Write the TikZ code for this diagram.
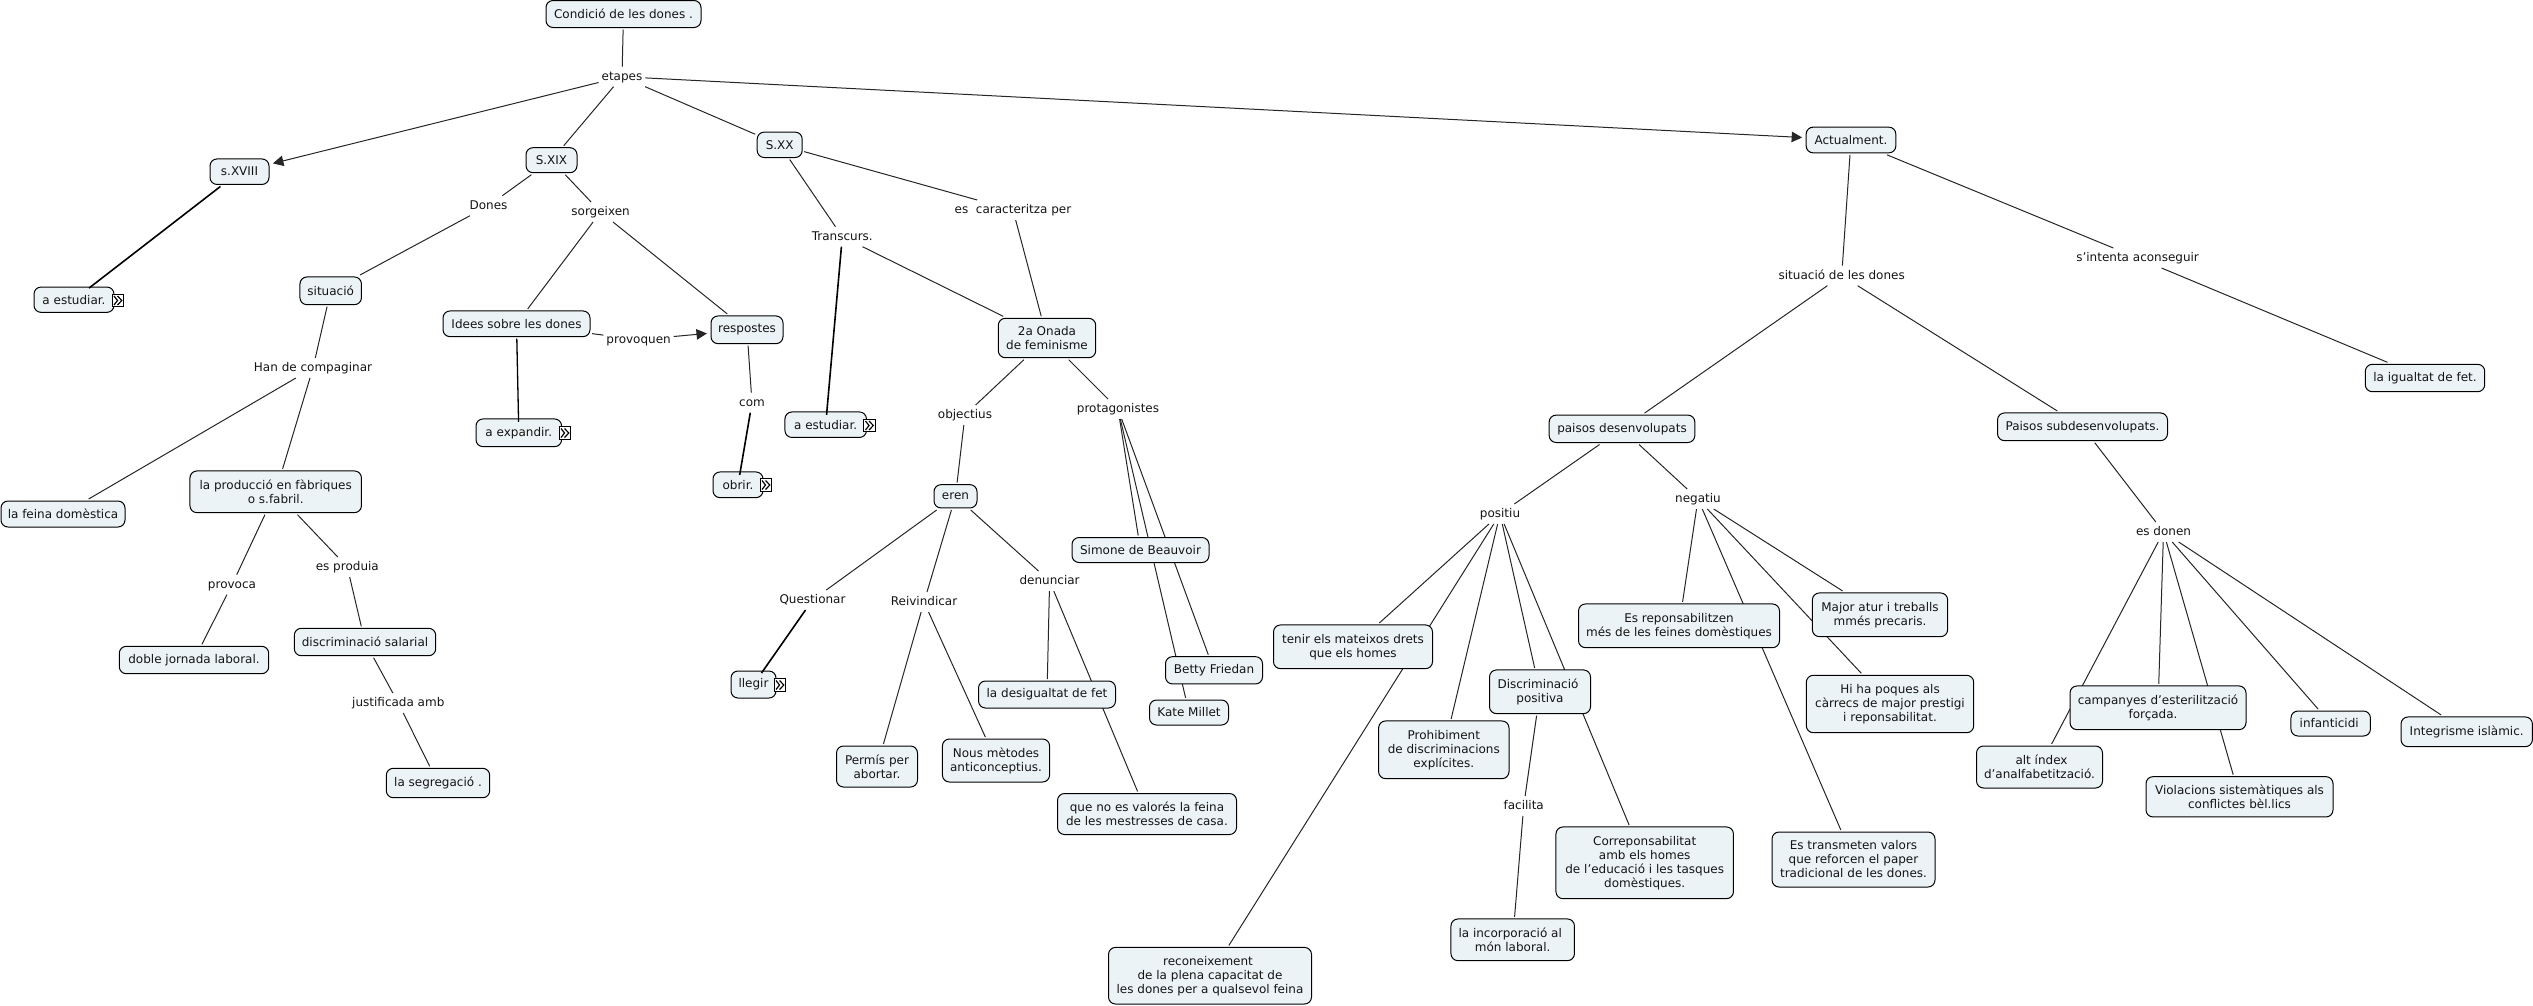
\documentclass[tikz,border=0pt]{standalone}
\usepackage{fontspec}
\setmainfont{DejaVu Sans}
\usetikzlibrary{arrows.meta,backgrounds}
\definecolor{conceptfill}{RGB}{236,243,246}
\definecolor{inkc}{RGB}{20,20,20}
\tikzset{
  every node/.style={font=\fontsize{12}{14}\selectfont,text=inkc},
  concept/.style={draw=black,line width=1pt,fill=conceptfill,rounded corners=7pt,align=center,inner sep=0pt,outer sep=2pt},
  linking/.style={inner xsep=3pt,inner ysep=0pt,minimum height=20pt,outer sep=0pt,text height=9.5pt,text depth=2.5pt},
  link/.style={draw=black!85,line width=1pt},
  arrowlink/.style={link,-{Triangle[length=10.5pt,width=10.5pt]},shorten >=2pt},
  doublelink/.style={draw=black,line width=1.6pt,shorten >=-5pt},
  resicon/.style={draw=black,line width=1pt,fill=white,minimum width=11.5pt,minimum height=12.5pt,inner sep=0pt,outer sep=0pt},
  chevron/.style={draw=black,line width=1.2pt},
}
\newcommand{\chevrons}[1]{%
  \draw[chevron] ([shift={(-4,-4.5)}]#1.center) -- ([shift={(-0.5,0)}]#1.center) -- ([shift={(-4,4.5)}]#1.center);
  \draw[chevron] ([shift={(-0.5,-4.5)}]#1.center) -- ([shift={(3.8,0)}]#1.center) -- ([shift={(-0.5,4.5)}]#1.center);}
\begin{document}
\begin{tikzpicture}[x=1pt,y=-1pt]
\useasboundingbox (0,0) rectangle (2533,1005);
% concepts
\node[concept,minimum width=155pt,minimum height=27pt] (root) at (623.5,14) {Condició de les dones .};
\node[concept,minimum width=59pt,minimum height=25.5pt] (sxviii) at (239.5,171.7) {s.XVIII};
\node[concept,minimum width=51pt,minimum height=25pt] (sxix) at (551.5,160.2) {S.XIX};
\node[concept,minimum width=45pt,minimum height=25.4pt] (sxx) at (779.7,144.8) {S.XX};
\node[concept,minimum width=80pt,minimum height=25.3pt] (aesta) at (74,299.7) {a estudiar.};
\node[concept,minimum width=61.5pt,minimum height=27.7pt] (situacio) at (330.7,290.8) {situació};
\node[concept,minimum width=147pt,minimum height=25.7pt] (idees) at (516.5,323.8) {Idees sobre les dones};
\node[concept,minimum width=72pt,minimum height=27.7pt] (respostes) at (747,329.8) {respostes};
\node[concept,minimum width=85.6pt,minimum height=27.7pt] (aexp) at (518.8,432.8) {a expandir.};
\node[concept,minimum width=50pt,minimum height=25.7pt] (obrir) at (738,484.8) {obrir.};
\node[concept,minimum width=171.5pt,minimum height=41.7pt] (produccio) at (275.7,491.8) {la producció en fàbriques\\o s.fabril.};
\node[concept,minimum width=124pt,minimum height=26pt] (feina) at (63,514) {la feina domèstica};
\node[concept,minimum width=149.4pt,minimum height=27.4pt] (doble) at (194,660) {doble jornada laboral.};
\node[concept,minimum width=141.4pt,minimum height=27.4pt] (discsal) at (365,642) {discriminació salarial};
\node[concept,minimum width=103.4pt,minimum height=29.4pt] (segreg) at (438,783) {la segregació .};
\node[concept,minimum width=97.4pt,minimum height=39.4pt] (onada) at (1047,338) {2a Onada\\de feminisme};
\node[concept,minimum width=81.5pt,minimum height=25.5pt] (aestb) at (825.7,424.7) {a estudiar.};
\node[concept,minimum width=43pt,minimum height=23.3pt] (eren) at (955.5,496.3) {eren};
\node[concept,minimum width=137pt,minimum height=25pt] (simone) at (1140.5,550) {Simone de Beauvoir};
\node[concept,minimum width=97pt,minimum height=27.3pt] (betty) at (1214,670.3) {Betty Friedan};
\node[concept,minimum width=79pt,minimum height=25pt] (kate) at (1189,712.5) {Kate Millet};
\node[concept,minimum width=45pt,minimum height=27pt] (llegir) at (753.5,684.5) {llegir};
\node[concept,minimum width=137pt,minimum height=27pt] (desig) at (1047,694.5) {la desigualtat de fet};
\node[concept,minimum width=81pt,minimum height=41pt] (permis) at (877,766.5) {Permís per\\abortar.};
\node[concept,minimum width=107.2pt,minimum height=43pt] (nous) at (996,760.5) {Nous mètodes\\anticonceptius.};
\node[concept,minimum width=179pt,minimum height=41pt] (queno) at (1147,814) {que no es valorés la feina\\de les mestresses de casa.};
\node[concept,minimum width=203pt,minimum height=56.6pt] (recon) at (1210,975.7) {reconeixement\hspace*{4pt}\\de la plena capacitat de\hspace*{4pt}\\les dones per a qualsevol feina};
\node[concept,minimum width=159pt,minimum height=43.7pt] (tenir) at (1353,646.8) {tenir els mateixos drets\\que els homes};
\node[concept,minimum width=101pt,minimum height=43.7pt] (discpos) at (1540,691.8) {Discriminació\hspace*{4pt}\\positiva};
\node[concept,minimum width=130.4pt,minimum height=57.7pt] (prohib) at (1443.8,749.8) {Prohibiment\\de discriminacions\hspace*{4pt}\\explícites.};
\node[concept,minimum width=123.5pt,minimum height=41.7pt] (incorp) at (1512.7,939.8) {la incorporació al\hspace*{5pt}\\món laboral.};
\node[concept,minimum width=177.5pt,minimum height=71.7pt] (corresp) at (1644.7,862.8) {Correponsabilitat\\amb els homes\hspace*{4pt}\\de l'educació i les tasques\hspace*{4pt}\\domèstiques.};
\node[concept,minimum width=201pt,minimum height=43.7pt] (esrep) at (1679,625.8) {Es reponsabilitzen\\més de les feines domèstiques};
\node[concept,minimum width=135.3pt,minimum height=43.7pt] (major) at (1880,614.8) {Major atur i treballs\\mmés precaris.};
\node[concept,minimum width=167.4pt,minimum height=57.4pt] (hiha) at (1890,704) {Hi ha poques als\\càrrecs de major prestigi\\i reponsabilitat.};
\node[concept,minimum width=163pt,minimum height=55pt] (estrans) at (1853.5,859.5) {Es transmeten valors\\que reforcen el paper\\tradicional de les dones.};
\node[concept,minimum width=170pt,minimum height=27.7pt] (paisosub) at (2082.5,426.8) {Paisos subdesenvolupats.};
\node[concept,minimum width=176pt,minimum height=43.7pt] (campanyes) at (2158,707.8) {campanyes d'esterilització\\forçada.\hspace*{10pt}};
\node[concept,minimum width=79.5pt,minimum height=25pt] (infant) at (2330.7,723.5) {infanticidi\hspace*{3pt}};
\node[concept,minimum width=131.4pt,minimum height=29.7pt] (integ) at (2466.7,731.8) {Integrisme islàmic.};
\node[concept,minimum width=126pt,minimum height=42pt] (altindex) at (2039.5,767) {\hspace*{4pt}alt índex\\d'analfabetització.};
\node[concept,minimum width=187pt,minimum height=40.3pt] (violac) at (2239.5,796.8) {Violacions sistemàtiques als\\conflictes bèl.lics};
\node[concept,minimum width=89.7pt,minimum height=25.7pt] (actual) at (1851,140) {Actualment.};
\node[concept,minimum width=119.4pt,minimum height=27.4pt] (igualtat) at (2425,378) {la igualtat de fet.};
\node[concept,minimum width=145.7pt,minimum height=27.4pt] (paisdes) at (1622,428.8) {paisos desenvolupats};
% linking phrases
\node[linking] (etapes) at (622,76.7) {etapes};
\node[linking] (dones) at (488.5,205.7) {Dones};
\node[linking] (sorgeixen) at (600.6,212) {sorgeixen};
\node[linking] (provoquen) at (638.6,339.7) {provoquen};
\node[linking] (han) at (313,368) {Han de compaginar};
\node[linking] (com) at (752,402.7) {com};
\node[linking] (provoca) at (232,584.7) {provoca};
\node[linking] (esprod) at (347.3,567) {es produia};
\node[linking] (justif) at (398.3,703) {justificada amb};
\node[linking] (transc) at (842.3,236.7) {Transcurs.};
\node[linking] (carac) at (1013,210) {es\ \ caracteritza per};
\node[linking] (objectius) at (965,415) {objectius};
\node[linking] (protag) at (1118,409) {protagonistes};
\node[linking] (questionar) at (812.5,600) {Questionar};
\node[linking] (reivind) at (924,602) {Reivindicar};
\node[linking] (denunc) at (1049.6,581) {denunciar};
\node[linking] (positiu) at (1500,514) {positiu};
\node[linking] (negatiu) at (1698,499) {negatiu};
\node[linking] (facilita) at (1523.7,806) {facilita};
\node[linking] (esdonen) at (2163.5,532) {es donen};
\node[linking] (sitdones) at (1841.7,275.7) {situació de les dones};
\node[linking] (sintenta) at (2137.6,258) {s'intenta aconseguir};
% connectors behind the concepts
\begin{pgfonlayer}{background}
\draw[link] (root) -- (etapes);
\draw[arrowlink] (etapes) -- (sxviii);
\draw[link] (etapes) -- (sxix);
\draw[link] (etapes) -- (sxx);
\draw[arrowlink] (etapes) -- (actual);
\draw[link] (sxix) -- (dones);
\draw[link] (dones) -- (situacio);
\draw[link] (sxix) -- (sorgeixen);
\draw[link] (sorgeixen) -- (idees);
\draw[link] (sorgeixen) -- (respostes);
\draw[link] (idees) -- (provoquen);
\draw[arrowlink] (provoquen) -- (respostes);
\draw[link] (respostes) -- (com);
\draw[link] (situacio) -- (han);
\draw[link] (han) -- (feina);
\draw[link] (han) -- (produccio);
\draw[link] (produccio) -- (provoca);
\draw[link] (provoca) -- (doble);
\draw[link] (produccio) -- (esprod);
\draw[link] (esprod) -- (discsal);
\draw[link] (discsal) -- (justif);
\draw[link] (justif) -- (segreg);
\draw[link] (sxx) -- (transc);
\draw[link] (transc) -- (onada);
\draw[link] (sxx) -- (carac);
\draw[link] (carac) -- (onada);
\draw[link] (onada) -- (objectius);
\draw[link] (objectius) -- (eren);
\draw[link] (onada) -- (protag);
\draw[link] (protag) -- (simone);
\draw[link] (protag) -- (betty);
\draw[link] (protag) -- (kate);
\draw[link] (eren) -- (questionar);
\draw[link] (eren) -- (reivind);
\draw[link] (reivind) -- (permis);
\draw[link] (reivind) -- (nous);
\draw[link] (eren) -- (denunc);
\draw[link] (denunc) -- (desig);
\draw[link] (denunc) -- (queno);
\draw[link] (actual) -- (sitdones);
\draw[link] (actual) -- (sintenta);
\draw[link] (sintenta) -- (igualtat);
\draw[link] (sitdones) -- (paisdes);
\draw[link] (sitdones) -- (paisosub);
\draw[link] (paisdes) -- (positiu);
\draw[link] (paisdes) -- (negatiu);
\draw[link] (positiu) -- (tenir);
\draw[link] (positiu) -- (recon);
\draw[link] (positiu) -- (prohib);
\draw[link] (positiu) -- (discpos);
\draw[link] (positiu) -- (corresp);
\draw[link] (discpos) -- (facilita);
\draw[link] (facilita) -- (incorp);
\draw[link] (negatiu) -- (esrep);
\draw[link] (negatiu) -- (estrans);
\draw[link] (negatiu) -- (major);
\draw[link] (negatiu) -- (hiha);
\draw[link] (paisosub) -- (esdonen);
\draw[link] (esdonen) -- (altindex);
\draw[link] (esdonen) -- (campanyes);
\draw[link] (esdonen) -- (violac);
\draw[link] (esdonen) -- (infant);
\draw[link] (esdonen) -- (integ);
\end{pgfonlayer}
% resource-holding connectors, over the concepts
\draw[doublelink] (sxviii) -- (aesta);
\draw[doublelink,line width=1.3pt] (idees) -- (aexp);
\draw[doublelink] (com) -- (obrir);
\draw[doublelink] (transc) -- (aestb);
\draw[doublelink] (questionar) -- (llegir);
% resource icons
\node[resicon] (ica) at (118,300.5) {}; \chevrons{ica}
\node[resicon] (icb) at (565,433) {}; \chevrons{icb}
\node[resicon] (icc) at (766,485) {}; \chevrons{icc}
\node[resicon] (icd) at (869.5,425.5) {}; \chevrons{icd}
\node[resicon] (ice) at (780,685) {}; \chevrons{ice}
\end{tikzpicture}
\end{document}
